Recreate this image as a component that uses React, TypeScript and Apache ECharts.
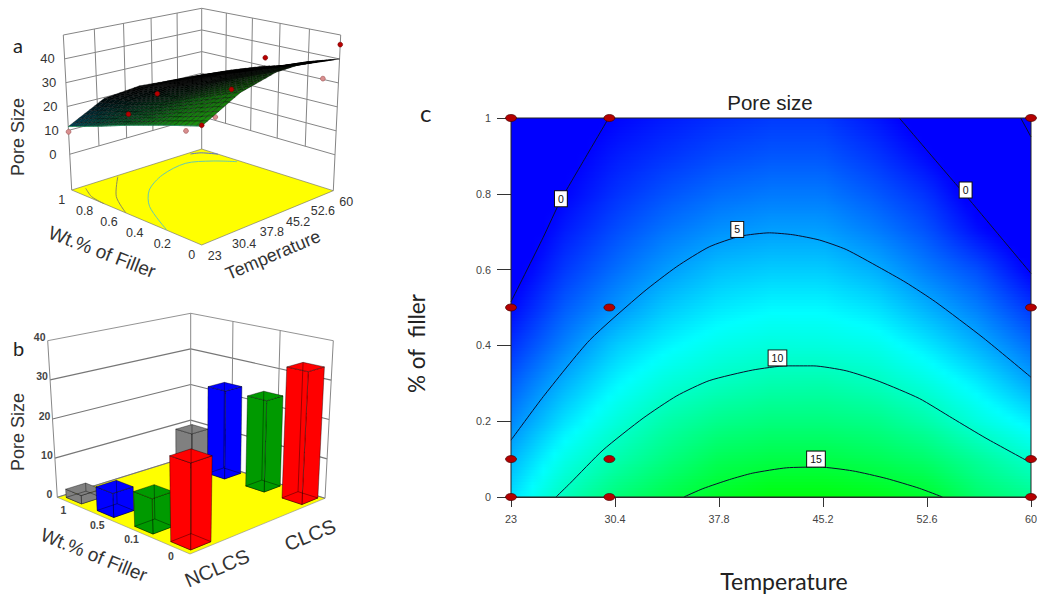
import React, { useEffect, useRef } from "react";
import * as echarts from "echarts";

// ---------- Panel c: contour map ----------
const TEMP_TICKS = [23, 30.4, 37.8, 45.2, 52.6, 60];
const FIELD_TEMPS = [23, 26.7, 30.4, 34.1, 37.8, 41.5, 45.2, 48.9, 52.6, 56.3, 60];
const FIELD_FILLERS = [0, 0.1, 0.2, 0.3, 0.4, 0.5, 0.6, 0.7, 0.8, 0.9, 1];
const FIELD_BY_TEMP = [
  [7, 5.7, 4.2, 2.9, 1.5, 0.2, -0.8, -1.5, -2, -2.5, -3],
  [10.3, 8.7, 7, 5.5, 4, 2.8, 1.7, 0.8, 0, -0.5, -1],
  [12.7, 10.8, 9.2, 7.7, 6.3, 4.6, 3.4, 2.4, 1.5, 0.8, 0.1],
  [14.3, 12.5, 11, 9.3, 7.7, 6.3, 4.9, 3.7, 2.6, 1.6, 0.8],
  [15.7, 14, 12.1, 10.2, 8.7, 7.3, 6, 4.6, 3.4, 2.3, 1.4],
  [16.5, 14.5, 12.6, 10.8, 9.2, 7.8, 6.4, 5, 3.8, 2.7, 1.8],
  [16.5, 14.5, 12.6, 10.9, 9.1, 7.8, 6.4, 5, 3.8, 2.7, 1.8],
  [16.1, 14, 12.2, 10.3, 8.7, 7.1, 5.5, 4, 2.8, 1.7, 0.7],
  [15.4, 13.2, 11, 9.1, 7.3, 5.5, 3.9, 2.6, 1.5, 0.2, -0.8],
  [13.2, 11.5, 9.1, 7.4, 5.5, 3.9, 2.4, 0.4, -0.8, -1.5, -2],
  [12, 9.8, 7.5, 5.3, 3.5, 1.7, -0.1, -1.2, -2, -2.5, -3],
];
const CONTOUR_0_LEFT = [[23, 0.515], [25.29, 0.685], [26.55, 0.784], [28.13, 0.885], [29.95, 1]];
const CONTOUR_0_RIGHT = [[50.63, 1], [54.41, 0.836], [55.37, 0.795], [60, 0.59]];
const CONTOUR_0_CORNER = [[59.27, 1], [60, 0.95]];
const CONTOUR_5 = [[23, 0.15], [25.3, 0.265], [28.6, 0.414], [32.4, 0.54], [34.8, 0.608], [37.1, 0.66], [39.3, 0.688], [41.4, 0.697], [43.05, 0.692], [44.95, 0.678], [46.85, 0.653], [49.2, 0.606], [51.1, 0.566], [53.2, 0.515], [56.6, 0.42], [60, 0.316]];
const CONTOUR_10 = [[26.2, 0], [27.2, 0.036], [29.55, 0.124], [32.4, 0.208], [34.8, 0.267], [37.1, 0.307], [40.2, 0.335], [42.6, 0.346], [44.5, 0.346], [46.85, 0.333], [49.2, 0.305], [52.05, 0.26], [54.4, 0.208], [56.8, 0.155], [60, 0.09]];
const CONTOUR_15 = [[35.3, 0], [36.65, 0.022], [38.55, 0.046], [40.2, 0.063], [42.6, 0.077], [44.95, 0.079], [47.3, 0.069], [49.7, 0.049], [52.05, 0.023], [53.7, 0]];
const CONTOUR_LABELS = [
  { value: [26.55, 0.787], text: "0" },
  { value: [55.35, 0.81], text: "0" },
  { value: [39.1, 0.706], text: "5" },
  { value: [41.96, 0.367], text: "10" },
  { value: [44.7, 0.1], text: "15" },
];
const DESIGN_POINTS = [
  [23, 1], [23, 0.5], [23, 0.1], [23, 0],
  [30, 1], [30, 0.5], [30, 0.1], [30, 0],
  [60, 1], [60, 0.5], [60, 0.1], [60, 0],
];

// ---------- Panel a: response surface ----------
const SURF_TEMPS = [23, 32.25, 41.5, 50.75, 60];
const SURF_FILLERS = [0, 0.25, 0.5, 0.75, 1];
const SURF_Z = [
  [29.6, 38, 42, 42.5, 40],
  [25.3, 32, 35.5, 36.5, 34],
  [20.8, 26, 29, 30.5, 30],
  [16, 22, 24.5, 25, 24.9],
  [11.6, 19.6, 21.2, 20.2, 19.2],
];
const SURF_TINT = [
  [0.9, 0.7, 0.3, 0.03, 0],
  [0.85, 0.6, 0.2, 0.03, 0],
  [0.7, 0.4, 0.1, 0, 0],
  [0.65, 0.2, 0.03, 0, 0],
  [0.6, 0.05, 0, 0, 0],
];
const A_POINTS_ABOVE = [[23, 0, 29.9], [23, 0.5, 25.2], [30, 0.5, 30.3], [30, 0, 40.2], [60, 0.5, 33.7], [60, 0, 46]];
const A_POINTS_BELOW = [[23, 1, 9.4], [23, 0.1, 25.9], [30, 0.1, 27.8], [60, 0.1, 30.3]];
const A_Z_TICKS = [0, 10, 20, 30, 40];
const A_Z_LINES = [0, 10, 20, 30, 40, 50];
const A_F_TICKS = [0, 0.2, 0.4, 0.6, 0.8, 1];
const A_FLOOR_CYAN = [[59.3, 0.686], [55.7, 0.798], [50.5, 0.879], [41.9, 0.827], [34.1, 0.702], [28.3, 0.524], [23.1, 0.243]];
const A_FLOOR_GRAY1 = [[25.6, 0.966], [23.6, 0.846], [23, 0.72]];
const A_FLOOR_GRAY2 = [[34.6, 0.984], [27.1, 0.754], [23, 0.545]];
const A_FLOOR_BLUE = [[55.7, 0.98], [58, 0.95], [60, 0.86]];

// ---------- Panel b: bars ----------
const B_FILLERS = ["0", "0.1", "0.5", "1"];
const B_MATERIALS = ["NCLCS", "CLCS"];
const B_COLORS = ["#ff0000", "#009a00", "#0000ff", "#808080"];
const B_NCLCS = [20.2, 8.4, 5.9, 2.1];
const B_CLCS = [33.3, 23.5, 23.3, 9.3];
const B_Z_TICKS = [0, 10, 20, 30, 40];

const SANS = '"Liberation Sans", Arial, sans-serif';

type P = [number, number];
function homography(p00: P, p10: P, p11: P, p01: P) {
  const dx1 = p10[0] - p11[0], dx2 = p01[0] - p11[0], sx = p00[0] - p10[0] + p11[0] - p01[0];
  const dy1 = p10[1] - p11[1], dy2 = p01[1] - p11[1], sy = p00[1] - p10[1] + p11[1] - p01[1];
  const den = dx1 * dy2 - dx2 * dy1;
  const g = (sx * dy2 - dx2 * sy) / den;
  const h = (dx1 * sy - sx * dy1) / den;
  const a = p10[0] - p00[0] + g * p10[0], b = p01[0] - p00[0] + h * p01[0], c = p00[0];
  const d = p10[1] - p00[1] + g * p10[1], e = p01[1] - p00[1] + h * p01[1], f = p00[1];
  return (u: number, v: number): P => {
    const q = g * u + h * v + 1;
    return [(a * u + b * v + c) / q, (d * u + e * v + f) / q];
  };
}
function box(bottom: P[], top: P[]) {
  const hb = homography(bottom[0], bottom[1], bottom[2], bottom[3]);
  const ht = homography(top[0], top[1], top[2], top[3]);
  return (u: number, v: number, w: number): P => {
    const a = hb(u, v), b = ht(u, v);
    return [a[0] + (b[0] - a[0]) * w, a[1] + (b[1] - a[1]) * w];
  };
}

const projA0 = box(
  [[201.7, 245], [333.3, 190.7], [201.7, 149], [71.7, 190]],
  [[201.7, 71.7], [340.7, 35], [201.7, 8.3], [63.3, 35]]
);
const A_Z_MIN = -15, A_Z_MAX = 50;
const projA = (t: number, f: number, z: number) => projA0((t - 23) / 37, f, (z - A_Z_MIN) / (A_Z_MAX - A_Z_MIN));

const projB0 = box(
  [[190, 554], [325, 498.3], [190.7, 455.7], [57.3, 497.3]],
  [[190, 380.7], [333.3, 340.7], [190.7, 313.3], [47.7, 340.7]]
);
const projB = (u: number, v: number, z: number) => projB0(u, v, z / 40);

function line(a: P, b: P, stroke: string, lineWidth = 1) {
  return { type: "line", shape: { x1: a[0], y1: a[1], x2: b[0], y2: b[1] }, style: { stroke, lineWidth } };
}
function poly(points: P[], fill: string, stroke?: string, lineWidth = 0.6) {
  return { type: "polygon", shape: { points }, style: { fill, stroke: stroke || "none", lineWidth } };
}
function polyl(points: P[], stroke: string, lineWidth = 1) {
  return { type: "polyline", shape: { points, smooth: 0.3 }, style: { stroke, lineWidth, fill: "none" } };
}
function label(text: any, p: P, fontSize: number, fill = "#333", fontWeight = "normal") {
  return {
    type: "text", x: p[0], y: p[1],
    style: { text: String(text), fontSize, fontFamily: SANS, fontWeight, fill, align: "center", verticalAlign: "middle" },
  };
}

function colormap(v: number) {
  const c = Math.max(0, Math.min(17, v));
  if (c <= 8) return `rgb(0,${Math.round((c / 8) * 255)},255)`;
  return `rgb(0,255,${Math.round(255 * (1 - (c - 8) / 9))})`;
}
function lattice(xs: number[], ys: number[], get: (i: number, j: number) => number, x: number, y: number) {
  let i = 0; while (i < xs.length - 2 && x > xs[i + 1]) i++;
  let j = 0; while (j < ys.length - 2 && y > ys[j + 1]) j++;
  const s = (x - xs[i]) / (xs[i + 1] - xs[i]), t = (y - ys[j]) / (ys[j + 1] - ys[j]);
  return (get(i, j) * (1 - s) + get(i + 1, j) * s) * (1 - t) + (get(i, j + 1) * (1 - s) + get(i + 1, j + 1) * s) * t;
}

function renderField(_p: any, api: any) {
  const children: any[] = [];
  const bands = 127, stopsN = 48;
  const x0 = api.coord([23, 0])[0], x1 = api.coord([60, 0])[0];
  for (let b = 0; b < bands; b++) {
    const fTop = 1 - b / bands, fBottom = 1 - (b + 1) / bands;
    const yTop = api.coord([23, fTop])[1], yBottom = api.coord([23, fBottom])[1];
    const fMid = (fTop + fBottom) / 2;
    const colorStops = [];
    for (let s = 0; s <= stopsN; s++) {
      const t = 23 + (37 * s) / stopsN;
      const v = lattice(FIELD_TEMPS, FIELD_FILLERS, (i, j) => FIELD_BY_TEMP[i][j], t, fMid);
      colorStops.push({ offset: s / stopsN, color: colormap(v) });
    }
    children.push({
      type: "rect",
      shape: { x: x0, y: yTop, width: x1 - x0, height: yBottom - yTop + (b < bands - 1 ? 0.8 : 0) },
      style: { fill: new echarts.graphic.LinearGradient(0, 0, 1, 0, colorStops) },
    });
  }
  return { type: "group", children };
}

function renderA() {
  const ch: any[] = [];
  const wall = "#858585";
  ch.push(poly([projA(23, 0, A_Z_MIN), projA(60, 0, A_Z_MIN), projA(60, 1, A_Z_MIN), projA(23, 1, A_Z_MIN)], "#ffff00", "#666", 0.6));
  const fl = (pts: number[][]) => pts.map((q) => projA(q[0], q[1], A_Z_MIN));
  ch.push(polyl(fl(A_FLOOR_GRAY1), "#8c8c5c", 1));
  ch.push(polyl(fl(A_FLOOR_GRAY2), "#8c8c5c", 1));
  ch.push(polyl(fl(A_FLOOR_CYAN), "#66c8b0", 1));
  ch.push(polyl(fl(A_FLOOR_BLUE), "#5a6fd0", 1));
  // walls
  for (const z of A_Z_LINES) {
    ch.push(line(projA(23, 1, z), projA(60, 1, z), wall));
    ch.push(line(projA(60, 1, z), projA(60, 0, z), wall));
  }
  for (const t of TEMP_TICKS.slice(1, -1)) ch.push(line(projA(t, 1, 0), projA(t, 1, A_Z_MAX), wall));
  for (const f of A_F_TICKS.slice(1, -1)) ch.push(line(projA(60, f, 0), projA(60, f, A_Z_MAX), wall));
  ch.push(line(projA(23, 1, A_Z_MIN), projA(23, 1, A_Z_MAX), wall));
  ch.push(line(projA(60, 1, A_Z_MIN), projA(60, 1, A_Z_MAX), wall));
  ch.push(line(projA(60, 0, A_Z_MIN), projA(60, 0, A_Z_MAX), wall));
  // points below the surface
  for (const q of A_POINTS_BELOW) {
    const p = projA(q[0], q[1], q[2]);
    ch.push({ type: "circle", shape: { cx: p[0], cy: p[1], r: 2.4 }, style: { fill: "#d98f8f", stroke: "#a86060", lineWidth: 0.7 } });
  }
  // surface mesh, painted from the back corner to the front
  const n = 28;
  const zAt = (t: number, f: number) => lattice(SURF_TEMPS, SURF_FILLERS, (i, j) => SURF_Z[j][i], t, f);
  const tintAt = (t: number, f: number) => lattice(SURF_TEMPS, SURF_FILLERS, (i, j) => SURF_TINT[j][i], t, f);
  for (let s = 2 * n - 2; s >= 0; s--) {
    for (let i = 0; i < n; i++) {
      const j = s - i;
      if (j < 0 || j >= n) continue;
      const t0 = 23 + (37 * i) / n, t1 = 23 + (37 * (i + 1)) / n;
      const f0 = j / n, f1 = (j + 1) / n;
      const tm = (t0 + t1) / 2, fm = (f0 + f1) / 2;
      const k = tintAt(tm, fm);
      const r = Math.round(30 * (1 - fm) * k);
      const g = Math.round((165 - 55 * fm) * k);
      const b = Math.round((15 + 135 * fm * fm) * k);
      ch.push(poly(
        [projA(t0, f0, zAt(t0, f0)), projA(t1, f0, zAt(t1, f0)), projA(t1, f1, zAt(t1, f1)), projA(t0, f1, zAt(t0, f1))],
        `rgb(${r},${g},${b})`, "rgba(0,0,0,0.7)", 0.5
      ));
    }
  }
  const edge: P[] = [];
  for (let i = 0; i <= n; i++) edge.push(projA(23, i / n, zAt(23, i / n)));
  ch.push({ type: "polyline", shape: { points: edge }, style: { stroke: "#2f9a6a", lineWidth: 0.9, fill: "none" } });
  for (const q of A_POINTS_ABOVE) {
    const p = projA(q[0], q[1], q[2]);
    ch.push({ type: "circle", shape: { cx: p[0], cy: p[1], r: 2.4 }, style: { fill: "#b80000", stroke: "#700000", lineWidth: 0.6 } });
  }
  // tick labels
  for (const z of A_Z_TICKS) {
    const p = projA(23, 1, z);
    ch.push(label(z, [p[0] - 17, p[1]], 13));
  }
  for (const f of A_F_TICKS) {
    const p = projA(23, f, A_Z_MIN);
    ch.push(label(f, [p[0] - 10, p[1] + 10 + 2.5 * Math.sin(f * Math.PI)], 12.5));
  }
  for (const t of TEMP_TICKS) {
    const p = projA(t, 0, A_Z_MIN);
    ch.push(label(t, [p[0] + 13, p[1] + 11], 12.5));
  }
  return { type: "group", children: ch };
}

function renderB() {
  const ch: any[] = [];
  const wall = "#777";
  const slotV = [0.095, 0.35, 0.64, 0.9];
  const slotU = [0.1, 0.91];
  ch.push(poly([projB(0, 0, 0), projB(1, 0, 0), projB(1, 1, 0), projB(0, 1, 0)], "#ffff00", "#888", 0.6));
  for (const z of B_Z_TICKS) {
    ch.push(line(projB(0, 1, z), projB(1, 1, z), wall, z === 40 ? 0.8 : 1.1));
    ch.push(line(projB(1, 1, z), projB(1, 0, z), wall, z === 40 ? 0.8 : 1.1));
    const p = projB(0, 1, z);
    ch.push(label(z, [p[0] - 8, p[1] - 3.5], 10.5, "#444", "bold"));
  }
  ch.push(line(projB(0, 1, 0), projB(0, 1, 40), "#888"));
  ch.push(line(projB(1, 1, 0), projB(1, 1, 40), "#888"));
  ch.push(line(projB(1, 0, 0), projB(1, 0, 40), "#888"));
  for (const v of [1 / 3, 2 / 3]) ch.push(line(projB(1, v, 0), projB(1, v, 40), "#888"));

  const bars: any[] = [];
  [B_NCLCS, B_CLCS].forEach((vals, m) => vals.forEach((z, i) => bars.push({ u: slotU[m], v: slotV[i], z, color: B_COLORS[i] })));
  bars.sort((a, b) => b.u + b.v - (a.u + a.v));
  const du = 0.067, dv = 0.066;
  const edge = "rgba(0,0,0,0.65)";
  for (const b of bars) {
    const c = (su: number, sv: number, z: number) => projB(b.u + su * du, b.v + sv * dv, z);
    ch.push(poly([c(-1, -1, 0), c(1, -1, 0), c(1, 1, 0), c(-1, 1, 0)], b.color, edge));
    ch.push(poly([c(-1, -1, 0), c(1, -1, 0), c(1, -1, b.z), c(-1, -1, b.z)], b.color, edge));
    ch.push(poly([c(-1, -1, 0), c(-1, 1, 0), c(-1, 1, b.z), c(-1, -1, b.z)], b.color, edge));
    ch.push(poly([c(-1, -1, b.z), c(1, -1, b.z), c(1, 1, b.z), c(-1, 1, b.z)], b.color, edge));
    // see-through wire edges
    ch.push(line(c(1, 1, 0), c(1, 1, b.z), edge, 0.6));
    ch.push(line(c(1, 1, 0), c(-1, 1, 0), edge, 0.6));
    ch.push(line(c(1, 1, 0), c(1, -1, 0), edge, 0.6));
  }
  const labelV = [0.105, 0.38, 0.64, 0.92];
  B_FILLERS.forEach((t, i) => {
    const p = projB(0, labelV[i], 0);
    ch.push(label(t, [p[0] - 3, p[1] + 9], 10.5, "#444", "bold"));
  });
  return { type: "group", children: ch };
}

function contourSeries(data: number[][]) {
  return {
    type: "line", data, smooth: 0.2, showSymbol: false, symbol: "none", z: 4, silent: true,
    lineStyle: { color: "#0a1030", width: 1 },
  };
}

export default function App() {
  const ref = useRef<HTMLDivElement>(null);
  useEffect(() => {
    const chart = echarts.init(ref.current!, undefined, { renderer: "svg" });
    const axisText = { fontFamily: SANS, fontSize: 10.8, color: "#444" };
    chart.setOption({
      animation: false,
      backgroundColor: "#fff",
      title: {
        text: "Pore size", left: 765, top: 87, textAlign: "center",
        textStyle: { fontFamily: SANS, fontWeight: "normal", fontSize: 20.5, color: "#222" },
      },
      grid: { left: 511, top: 118, width: 520, height: 379, show: true, borderColor: "#222", borderWidth: 1, backgroundColor: "transparent", z: 5, outerBoundsMode: "none" },
      xAxis: {
        type: "value", min: 23, max: 60, name: "Temperature", nameLocation: "middle", nameGap: 72,
        nameTextStyle: { fontFamily: "Lato", fontSize: 23, color: "#222", padding: [0, 0, 0, 26] },
        axisLine: { show: true, lineStyle: { color: "#333" } },
        axisTick: { show: true, length: 10, customValues: TEMP_TICKS, lineStyle: { color: "#333" } },
        axisLabel: { customValues: TEMP_TICKS, margin: 16, ...axisText, formatter: (v: number) => String(v) },
        splitLine: { show: false },
      },
      yAxis: {
        type: "value", min: 0, max: 1, interval: 0.2, name: "% of  filler", nameLocation: "middle", nameGap: 83,
        nameTextStyle: { fontFamily: "Lato", fontSize: 22.5, color: "#222", padding: [0, 72, 0, 0] },
        axisLine: { show: true, lineStyle: { color: "#333" } },
        axisTick: { show: true, length: 14, lineStyle: { color: "#333" } },
        axisLabel: { margin: 20, ...axisText },
        splitLine: { show: false },
      },
      graphic: [
        { type: "text", left: 13, top: 35, style: { text: "a", fontFamily: "Lato", fontSize: 20, fill: "#222" } },
        { type: "text", left: 13, top: 338, style: { text: "b", fontFamily: "Lato", fontSize: 20, fill: "#222" } },
        { type: "text", left: 420, top: 100, style: { text: "c", fontFamily: "Lato", fontSize: 24, fill: "#222" } },
        { type: "text", x: 18, y: 137, rotation: Math.PI / 2, style: { text: "Pore Size", fontFamily: SANS, fontSize: 18, fill: "#333", align: "center", verticalAlign: "middle" } },
        { type: "text", x: 102, y: 252, rotation: (-21 * Math.PI) / 180, style: { text: "Wt.% of Filler", fontFamily: SANS, fontSize: 19, fill: "#333", align: "center", verticalAlign: "middle" } },
        { type: "text", x: 273, y: 255, rotation: (23 * Math.PI) / 180, style: { text: "Temperature", fontFamily: SANS, fontSize: 18, fill: "#333", align: "center", verticalAlign: "middle" } },
        { type: "text", x: 18, y: 432, rotation: Math.PI / 2, style: { text: "Pore Size", fontFamily: SANS, fontSize: 18, fill: "#333", align: "center", verticalAlign: "middle" } },
        { type: "text", x: 94, y: 555, rotation: (-22 * Math.PI) / 180, style: { text: "Wt.% of Filler", fontFamily: SANS, fontSize: 19, fill: "#333", align: "center", verticalAlign: "middle" } },
        { type: "text", x: 217, y: 568, rotation: (23 * Math.PI) / 180, style: { text: B_MATERIALS[0], fontFamily: SANS, fontSize: 20, fill: "#333", align: "center", verticalAlign: "middle" } },
        { type: "text", x: 310, y: 535, rotation: (22 * Math.PI) / 180, style: { text: B_MATERIALS[1], fontFamily: SANS, fontSize: 20, fill: "#333", align: "center", verticalAlign: "middle" } },
      ],
      series: [
        { type: "custom", coordinateSystem: "cartesian2d", data: [[23, 0]], renderItem: renderField, silent: true, z: 1, clip: false },
        contourSeries(CONTOUR_0_LEFT),
        contourSeries(CONTOUR_0_RIGHT),
        contourSeries(CONTOUR_0_CORNER),
        contourSeries(CONTOUR_5),
        contourSeries(CONTOUR_10),
        contourSeries(CONTOUR_15),
        {
          type: "scatter", data: DESIGN_POINTS, z: 6, clip: false, silent: true,
          symbol: "path://M0 5A8 5 0 1 0 16 5A8 5 0 1 0 0 5Z", symbolSize: [11, 7], symbolKeepAspect: false,
          itemStyle: { color: "#b40000", borderColor: "#4a0000", borderWidth: 0.7, opacity: 1 },
        },
        {
          type: "scatter", symbolSize: 0, z: 7, silent: true, clip: false,
          data: CONTOUR_LABELS.map((d) => ({ value: d.value, text: d.text })),
          itemStyle: { opacity: 1 },
          label: {
            show: true, position: "inside", formatter: (p: any) => p.data.text,
            fontFamily: SANS, fontSize: 10.5, color: "#111", backgroundColor: "#fff",
            borderColor: "#111", borderWidth: 1, padding: [2, 3],
          },
        },
        { type: "custom", coordinateSystem: "none", data: [[0]], renderItem: renderA, silent: true, z: 2 },
        { type: "custom", coordinateSystem: "none", data: [[0]], renderItem: renderB, silent: true, z: 2 },
      ],
    });
    return () => chart.dispose();
  }, []);
  return <div ref={ref} style={{ position: "fixed", left: 0, top: 0, width: 1037, height: 597 }} />;
}
